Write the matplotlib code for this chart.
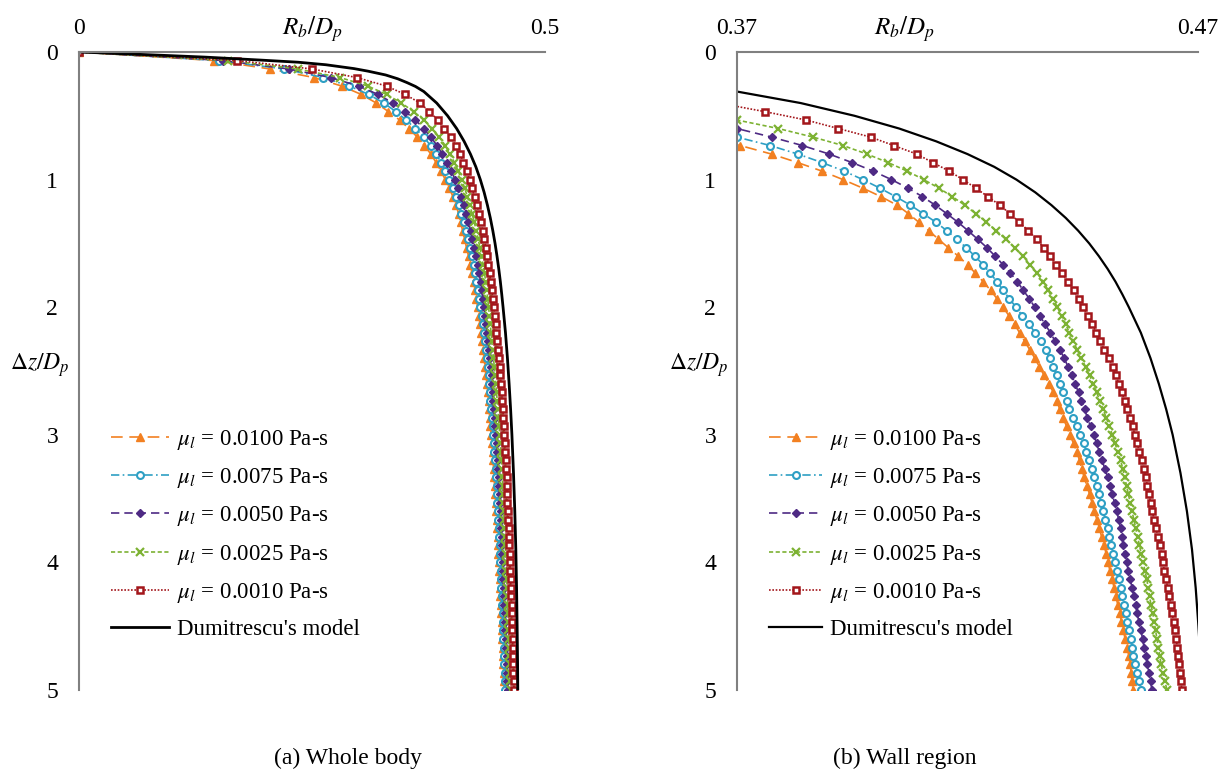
import matplotlib
matplotlib.use("Agg")
import matplotlib.pyplot as plt

plt.rcParams['font.family'] = ['Liberation Serif', 'DejaVu Serif']
plt.rcParams['mathtext.fontset'] = 'stix'

# depth below the nose, dz/Dp
depth = [0.000, 0.067, 0.133, 0.200, 0.267, 0.333, 0.400, 0.467, 0.533, 0.600,
         0.667, 0.733, 0.800, 0.867, 0.933, 1.000, 1.067, 1.133, 1.200, 1.267,
         1.333, 1.400, 1.467, 1.533, 1.600, 1.667, 1.733, 1.800, 1.867, 1.933,
         2.000, 2.067, 2.133, 2.200, 2.267, 2.333, 2.400, 2.467, 2.533, 2.600,
         2.667, 2.733, 2.800, 2.867, 2.933, 3.000, 3.067, 3.133, 3.200, 3.267,
         3.333, 3.400, 3.467, 3.533, 3.600, 3.667, 3.733, 3.800, 3.867, 3.933,
         4.000, 4.067, 4.133, 4.200, 4.267, 4.333, 4.400, 4.467, 4.533, 4.600,
         4.667, 4.733, 4.800, 4.867, 4.933, 5.000]

# bubble radius Rb/Dp for each liquid viscosity
r_0100 = [0.0, 0.145, 0.205, 0.252, 0.282, 0.303, 0.319, 0.332, 0.344, 0.354,
          0.363, 0.3707, 0.3775, 0.3832, 0.3884, 0.3930, 0.3973, 0.4012, 0.4047, 0.4072,
          0.4094, 0.4116, 0.4137, 0.4158, 0.4180, 0.4200, 0.4217, 0.4234, 0.4250, 0.4264,
          0.4277, 0.4290, 0.4302, 0.4313, 0.4324, 0.4335, 0.4346, 0.4356, 0.4366, 0.4377,
          0.4386, 0.4394, 0.4400, 0.4407, 0.4415, 0.4422, 0.4430, 0.4437, 0.4443, 0.4448,
          0.4453, 0.4459, 0.4465, 0.4470, 0.4475, 0.4481, 0.4486, 0.4491, 0.4496, 0.4501,
          0.4505, 0.4509, 0.4514, 0.4518, 0.4522, 0.4526, 0.4530, 0.4534, 0.4538, 0.4542,
          0.4546, 0.4550, 0.4553, 0.4555, 0.4557, 0.4559]
r_0075 = [0.0, 0.150, 0.220, 0.262, 0.290, 0.311, 0.327, 0.340, 0.351, 0.361,
          0.370, 0.3772, 0.3832, 0.3885, 0.3932, 0.3973, 0.4010, 0.4044, 0.4076, 0.4104,
          0.4131, 0.4155, 0.4177, 0.4197, 0.4216, 0.4234, 0.4249, 0.4264, 0.4277, 0.4291,
          0.4305, 0.4319, 0.4333, 0.4347, 0.4360, 0.4370, 0.4378, 0.4386, 0.4394, 0.4400,
          0.4408, 0.4415, 0.4421, 0.4428, 0.4437, 0.4445, 0.4452, 0.4458, 0.4464, 0.4470,
          0.4475, 0.4480, 0.4485, 0.4490, 0.4495, 0.4499, 0.4504, 0.4508, 0.4512, 0.4516,
          0.4520, 0.4524, 0.4528, 0.4532, 0.4536, 0.4540, 0.4544, 0.4547, 0.4551, 0.4554,
          0.4557, 0.4560, 0.4564, 0.4568, 0.4572, 0.4576]
r_0050 = [0.0, 0.155, 0.225, 0.270, 0.300, 0.321, 0.337, 0.350, 0.361, 0.370,
          0.3775, 0.3842, 0.3900, 0.3950, 0.3995, 0.4035, 0.4071, 0.4102, 0.4130, 0.4155,
          0.4179, 0.4201, 0.4222, 0.4242, 0.4260, 0.4277, 0.4293, 0.4308, 0.4321, 0.4334,
          0.4346, 0.4357, 0.4368, 0.4380, 0.4390, 0.4400, 0.4410, 0.4418, 0.4426, 0.4433,
          0.4441, 0.4447, 0.4454, 0.4460, 0.4467, 0.4474, 0.4480, 0.4486, 0.4492, 0.4498,
          0.4504, 0.4509, 0.4514, 0.4519, 0.4524, 0.4528, 0.4532, 0.4535, 0.4538, 0.4541,
          0.4545, 0.4549, 0.4553, 0.4557, 0.4561, 0.4565, 0.4568, 0.4572, 0.4576, 0.4580,
          0.4583, 0.4587, 0.4590, 0.4594, 0.4597, 0.4600]
r_0025 = [0.0, 0.160, 0.235, 0.280, 0.310, 0.330, 0.346, 0.359, 0.370, 0.379,
          0.3865, 0.3930, 0.3982, 0.4028, 0.4069, 0.4105, 0.4138, 0.4167, 0.4194, 0.4218,
          0.4241, 0.4262, 0.4283, 0.4302, 0.4320, 0.4336, 0.4351, 0.4364, 0.4375, 0.4385,
          0.4395, 0.4404, 0.4413, 0.4421, 0.4429, 0.4438, 0.4447, 0.4456, 0.4465, 0.4472,
          0.4480, 0.4487, 0.4494, 0.4501, 0.4508, 0.4514, 0.4520, 0.4526, 0.4532, 0.4537,
          0.4541, 0.4545, 0.4549, 0.4553, 0.4557, 0.4561, 0.4565, 0.4569, 0.4573, 0.4577,
          0.4581, 0.4585, 0.4589, 0.4592, 0.4595, 0.4598, 0.4602, 0.4605, 0.4608, 0.4611,
          0.4614, 0.4617, 0.4620, 0.4624, 0.4628, 0.4633]
r_0010 = [0.0, 0.170, 0.250, 0.298, 0.330, 0.350, 0.366, 0.376, 0.385, 0.392,
          0.399, 0.404, 0.409, 0.4125, 0.4160, 0.4190, 0.4218, 0.4244, 0.4270, 0.4292,
          0.4312, 0.4332, 0.4350, 0.4365, 0.4380, 0.4392, 0.4405, 0.4418, 0.4430, 0.4441,
          0.4451, 0.4461, 0.4471, 0.4479, 0.4487, 0.4497, 0.4507, 0.4515, 0.4522, 0.4528,
          0.4535, 0.4541, 0.4547, 0.4553, 0.4558, 0.4563, 0.4568, 0.4573, 0.4579, 0.4583,
          0.4587, 0.4590, 0.4594, 0.4597, 0.4601, 0.4605, 0.4609, 0.4613, 0.4617, 0.4621,
          0.4624, 0.4627, 0.4631, 0.4634, 0.4638, 0.4641, 0.4644, 0.4647, 0.4650, 0.4653,
          0.4655, 0.4657, 0.4659, 0.4661, 0.4663, 0.4665]

# Dumitrescu's model
dum_z = [0.0, 0.02, 0.04, 0.063, 0.08, 0.10, 0.13, 0.15, 0.18, 0.21, 0.24, 0.27,
         0.31, 0.40, 0.50, 0.60, 0.70, 0.80, 0.90, 1.00, 1.10, 1.20, 1.30, 1.40,
         1.50, 1.60, 1.70, 1.80, 1.90, 2.00, 2.20, 2.40, 2.60, 2.80, 3.00, 3.30,
         3.60, 3.90, 4.20, 4.50, 4.80, 5.00]
dum_r = [0.0, 0.070, 0.135, 0.194, 0.235, 0.265, 0.295, 0.310, 0.329, 0.342, 0.352, 0.361,
         0.3700, 0.3838, 0.3955, 0.4052, 0.4132, 0.4200, 0.4258, 0.4306, 0.4347, 0.4382,
         0.4413, 0.4440, 0.4464, 0.4485, 0.4504, 0.4521, 0.4536, 0.4550, 0.4576, 0.4597,
         0.4615, 0.4631, 0.4645, 0.4662, 0.4676, 0.4687, 0.4695, 0.4701, 0.4706, 0.4708]

labels = ['0.0100', '0.0075', '0.0050', '0.0025', '0.0010']
series = [r_0100, r_0075, r_0050, r_0025, r_0010]
styles = [
    dict(color='#F28021', ls=(0, (7, 4)), marker='^', ms=6, mfc='#F28021', mew=1),
    dict(color='#2E9FC4', ls=(0, (5, 2, 1, 2)), marker='o', ms=5, mfc='white', mew=1.5),
    dict(color='#4E2A84', ls=(0, (5, 3)), marker='D', ms=4, mfc='#4E2A84', mew=1),
    dict(color='#7DB233', ls=(0, (2.5, 1.5)), marker='x', ms=6, mfc='none', mew=1.6),
    dict(color='#A3161B', ls=(0, (1, 1)), marker='s', ms=5, mfc='white', mew=1.8),
]


def panel(ax, xlim, xticks, xlabel_x, lw_dum, leg_x, hlen):
    for r, lab, st in zip(series, labels, styles):
        ax.plot(r, depth, lw=1.2, label=r'$\mu_l$ = ' + lab + ' Pa-s', **st)
    ax.plot(dum_r, dum_z, color='black', lw=lw_dum, label="Dumitrescu's model")
    ax.set_xlim(*xlim)
    ax.set_ylim(5, 0)
    ax.xaxis.tick_top()
    ax.set_xticks(xticks)
    ax.set_xticklabels([str(t) for t in xticks])
    ax.set_yticks([0, 1, 2, 3, 4, 5])
    ax.tick_params(axis='x', length=0, pad=9, labelsize=17)
    ax.tick_params(axis='y', length=0, pad=15, labelsize=17)
    for s in ['right', 'bottom']:
        ax.spines[s].set_visible(False)
    for s in ['left', 'top']:
        ax.spines[s].set_color('#808080')
        ax.spines[s].set_linewidth(1.5)
    ax.text(xlabel_x, 1.036, r'$R_b/D_p$', transform=ax.transAxes,
            ha='center', va='center', fontsize=18)
    ax.text(-0.083, 0.51, r'$\Delta z/D_p$', transform=ax.transAxes,
            ha='center', va='center', fontsize=17)
    ax.legend(loc='upper left', bbox_to_anchor=(leg_x, 0.425), frameon=False,
              fontsize=16.5, numpoints=1, handlelength=hlen, handletextpad=0.35,
              labelspacing=0.62, borderaxespad=0)


fig = plt.figure(figsize=(12.31, 7.76), dpi=100)
ax1 = fig.add_axes([79 / 1231, 86 / 776, 466 / 1231, 638 / 776])
ax2 = fig.add_axes([737 / 1231, 86 / 776, 461 / 1231, 638 / 776])

panel(ax1, (0, 0.5), [0, 0.5], 0.5, 2.0, 0.05, 2.5)
panel(ax2, (0.37, 0.47), [0.37, 0.47], 0.364, 1.6, 0.05, 2.3)

fig.text(348 / 1231, 1 - 758 / 776, '(a) Whole body', ha='center', va='center', fontsize=17)
fig.text(905 / 1231, 1 - 758 / 776, '(b) Wall region', ha='center', va='center', fontsize=17)

fig.savefig('out.png', dpi=100)
